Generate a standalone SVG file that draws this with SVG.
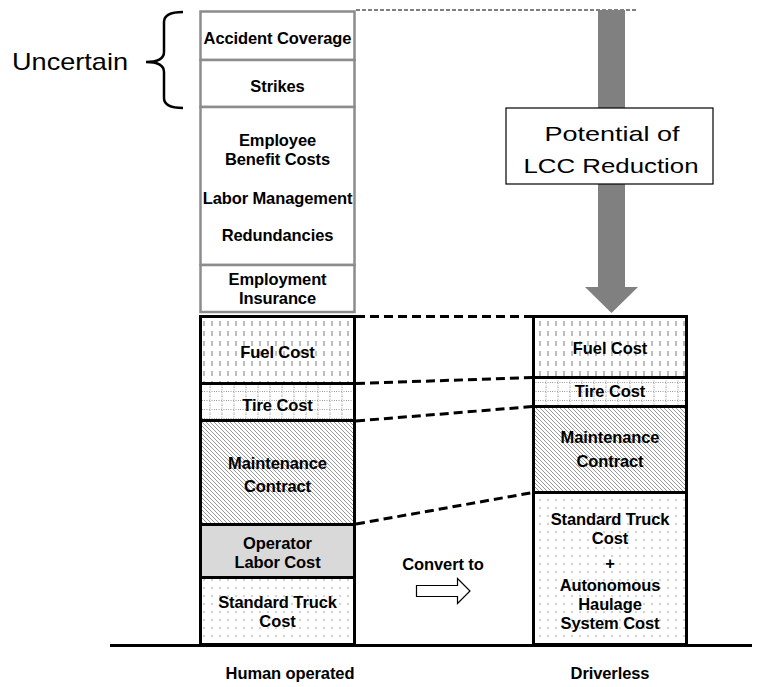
<svg xmlns="http://www.w3.org/2000/svg" width="761" height="687" viewBox="0 0 761 687">
  <defs>
    <!-- fill patterns for the cost blocks -->
    <pattern id="pFuel" width="8" height="10" patternUnits="userSpaceOnUse">
      <line x1="4" y1="1" x2="4" y2="6" stroke="#7a7a7a" stroke-width="1"/>
    </pattern>
    <pattern id="pTire" width="12" height="9" patternUnits="userSpaceOnUse">
      <line x1="0" y1="4.5" x2="12" y2="4.5" stroke="#9a9a9a" stroke-width="1" stroke-dasharray="1 1.5"/>
      <line x1="6" y1="0" x2="6" y2="9" stroke="#9a9a9a" stroke-width="1" stroke-dasharray="1 1.5"/>
    </pattern>
    <pattern id="pHatch" width="4" height="4" patternUnits="userSpaceOnUse">
      <path d="M-1,-1 L5,5 M-1,3 L1,5 M3,-1 L5,1" stroke="#8a8a8a" stroke-width="0.9"/>
    </pattern>
    <pattern id="pDots" width="8" height="8" patternUnits="userSpaceOnUse">
      <circle cx="4" cy="4" r="0.8" fill="#999"/>
    </pattern>
  </defs>
  <style>
    .lbl { font-family: "Liberation Sans", Arial, sans-serif; font-weight: bold; font-size: 16.5px; fill: #000; text-anchor: middle; letter-spacing: -0.1px; }
    .big { font-family: "Liberation Sans", Arial, sans-serif; font-size: 21px; fill: #000; text-anchor: middle; }
    .soft { stroke: #8c8c8c; stroke-width: 2.5; fill: #fff; }
    .hard { stroke: #000; stroke-width: 3; }
    .link { stroke: #000; stroke-width: 3; stroke-dasharray: 9 5; fill: none; }
  </style>

  <rect width="761" height="687" fill="#fff"/>

  <!-- reduction arrow and its top guide line -->
  <g id="reduction">
    <line x1="356" y1="10" x2="638" y2="10" stroke="#000" stroke-width="1" stroke-dasharray="4 2"/>
    <rect x="598" y="10" width="27" height="278" fill="#808080"/>
    <polygon points="585,287 638,287 611.5,313" fill="#808080"/>
    <rect x="506" y="108" width="207" height="76" fill="#fff" stroke="#000" stroke-width="1.2"/>
    <text class="big" x="612" y="141" textLength="135" lengthAdjust="spacingAndGlyphs">Potential of</text>
    <text class="big" x="611" y="173" textLength="175" lengthAdjust="spacingAndGlyphs">LCC Reduction</text>
  </g>

  <!-- uncertain bracket -->
  <g id="uncertain">
    <text x="12" y="70" font-family="Liberation Sans, Arial, sans-serif" font-size="24" fill="#000" textLength="116" lengthAdjust="spacingAndGlyphs">Uncertain</text>
    <path d="M183,12 Q164,12 164,22 L164,52 Q164,62 146,62 Q164,62 164,72 L164,98 Q164,108 183,108" fill="none" stroke="#000" stroke-width="2.5"/>
  </g>

  <!-- human operated column: uncertain / labor related items -->
  <g id="accident">
    <rect class="soft" x="200.5" y="11.5" width="154" height="48.5"/>
    <text class="lbl" x="277.5" y="44">Accident Coverage</text>
  </g>
  <g id="strikes">
    <rect class="soft" x="200.5" y="60" width="154" height="47"/>
    <text class="lbl" x="277.5" y="92">Strikes</text>
  </g>
  <g id="labor">
    <rect class="soft" x="200.5" y="107" width="154" height="158"/>
    <text class="lbl" x="277.5" y="146">Employee</text>
    <text class="lbl" x="277.5" y="165">Benefit Costs</text>
    <text class="lbl" x="277.5" y="204">Labor Management</text>
    <text class="lbl" x="277.5" y="241">Redundancies</text>
  </g>
  <g id="insurance">
    <rect class="soft" x="200.5" y="265" width="154" height="47"/>
    <text class="lbl" x="277.5" y="285">Employment</text>
    <text class="lbl" x="277.5" y="304">Insurance</text>
  </g>

  <!-- human operated column: cost items -->
  <g id="fuel-h">
    <rect class="hard" x="200.5" y="316.5" width="154" height="67" fill="url(#pFuel)"/>
    <text class="lbl" x="277.5" y="358">Fuel Cost</text>
  </g>
  <g id="tire-h">
    <rect class="hard" x="200.5" y="383.5" width="154" height="37" fill="url(#pTire)"/>
    <text class="lbl" x="277.5" y="411">Tire Cost</text>
  </g>
  <g id="maint-h">
    <rect class="hard" x="200.5" y="420.5" width="154" height="104" fill="url(#pHatch)"/>
    <text class="lbl" x="277.5" y="469">Maintenance</text>
    <text class="lbl" x="277.5" y="492">Contract</text>
  </g>
  <g id="operator">
    <rect class="hard" x="200.5" y="524.5" width="154" height="53" fill="#d9d9d9"/>
    <text class="lbl" x="277.5" y="549">Operator</text>
    <text class="lbl" x="277.5" y="568">Labor Cost</text>
  </g>
  <g id="truck-h">
    <rect class="hard" x="200.5" y="577.5" width="154" height="67" fill="url(#pDots)"/>
    <text class="lbl" x="277.5" y="608">Standard Truck</text>
    <text class="lbl" x="277.5" y="627">Cost</text>
  </g>

  <!-- driverless column -->
  <g id="fuel-d">
    <rect class="hard" x="533.5" y="316.5" width="153" height="61" fill="url(#pFuel)"/>
    <text class="lbl" x="610" y="354">Fuel Cost</text>
  </g>
  <g id="tire-d">
    <rect class="hard" x="533.5" y="377.5" width="153" height="29" fill="url(#pTire)"/>
    <text class="lbl" x="610" y="397">Tire Cost</text>
  </g>
  <g id="maint-d">
    <rect class="hard" x="533.5" y="406.5" width="153" height="86" fill="url(#pHatch)"/>
    <text class="lbl" x="610" y="443">Maintenance</text>
    <text class="lbl" x="610" y="467">Contract</text>
  </g>
  <g id="truck-d">
    <rect class="hard" x="533.5" y="492.5" width="153" height="152" fill="url(#pDots)"/>
    <text class="lbl" x="610" y="525">Standard Truck</text>
    <text class="lbl" x="610" y="544">Cost</text>
    <text class="lbl" x="610" y="569">+</text>
    <text class="lbl" x="610" y="591">Autonomous</text>
    <text class="lbl" x="610" y="610">Haulage</text>
    <text class="lbl" x="610" y="629">System Cost</text>
  </g>

  <!-- dashed links between matching cost items -->
  <g id="connectors">
    <line class="link" x1="356" y1="316.5" x2="533" y2="316.5"/>
    <line class="link" x1="356" y1="383.5" x2="533" y2="377.5"/>
    <line class="link" x1="356" y1="421" x2="533" y2="406.5"/>
    <line class="link" x1="356" y1="524" x2="533" y2="492.5"/>
  </g>

  <!-- conversion hint -->
  <g id="convert">
    <text class="lbl" x="443" y="570">Convert to</text>
    <polygon points="416.5,585.5 457.5,585.5 457.5,578.5 470,591 457.5,603.5 457.5,596.5 416.5,596.5" fill="#fff" stroke="#000" stroke-width="1.2"/>
  </g>

  <!-- ground line and column captions -->
  <g id="baseline">
    <line x1="110" y1="645.5" x2="752" y2="645.5" stroke="#000" stroke-width="3"/>
    <text class="lbl" x="290" y="679">Human operated</text>
    <text class="lbl" x="610" y="679">Driverless</text>
  </g>
</svg>
